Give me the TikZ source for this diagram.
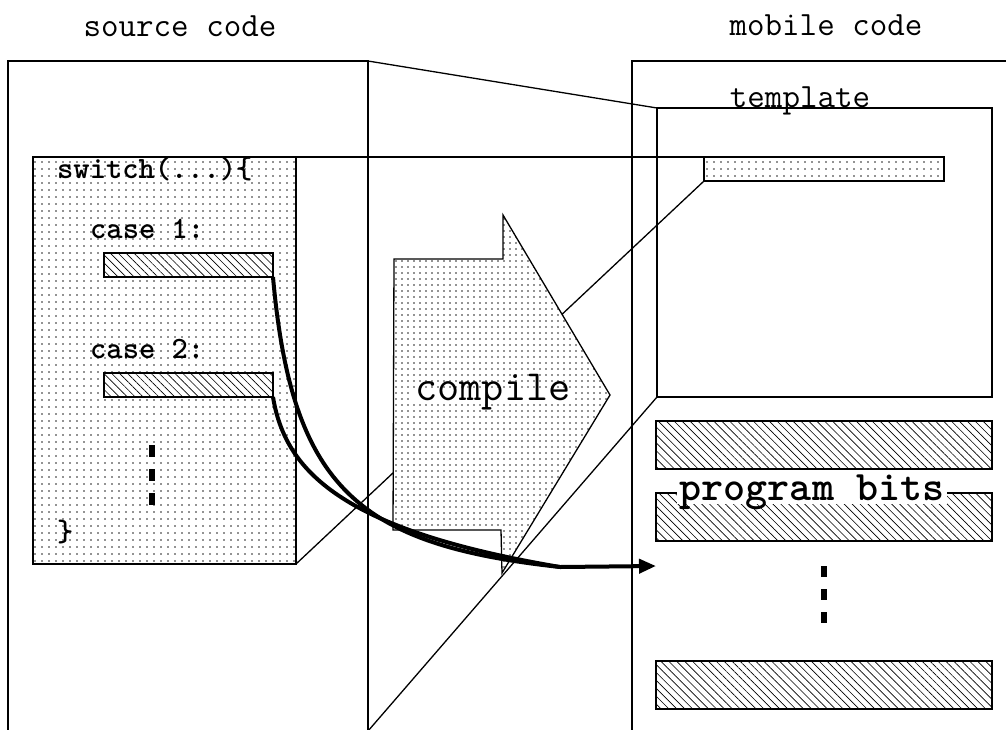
\documentclass[tikz,border=0pt]{standalone}
\usepackage{fontspec}
\usetikzlibrary{patterns.meta, arrows.meta}

\tikzset{
  frame/.style={line width=1.3pt},
  box/.style={draw, frame, inner sep=0pt, outer sep=0pt, anchor=north west},
  dotted area/.style={preaction={fill=white}, pattern={Dots[distance=7pt, radius=0.95pt]}, pattern color=black!85},
  dense dots/.style={preaction={fill=white}, pattern={Dots[distance=6pt, radius=0.9pt]}, pattern color=black!85},
  hatched/.style={preaction={fill=white}, pattern={Lines[angle=-45, distance=5.6pt, line width=0.65pt]}},
  caption/.style={font=\ttfamily\fontsize{34}{40}\selectfont, anchor=base, inner sep=0pt},
  code/.style={font=\ttfamily\bfseries\fontsize{31}{36}\selectfont, anchor=base west, inner sep=0pt},
  bigword/.style={fill=white, inner xsep=3pt, inner ysep=2pt, anchor=base,
                  text height=0.72em, text depth=0.24em},
  wire/.style={line width=4pt},
  ellipsis/.style={line width=6.5pt, dash pattern=on 12pt off 12pt},
}

\begin{document}
\begin{tikzpicture}[x=1pt, y=-1pt]
\useasboundingbox (0,0) rectangle (1006,729);
\clip (0,0) rectangle (1006,729);

% headings
\node[caption] (srclabel) at (180,36) {source code};
\node[caption] (moblabel) at (826,35) {mobile code};

% source code frame (open at the bottom)
\coordinate (srcTR) at (368,61);
\coordinate (srcBR) at (368,731);
\draw[frame] (8,745) -- (8,61) -- (srcTR) -- (368,745);

% mobile code frame (open at the bottom and right)
\draw[frame] (632,745) -- (632,61) -- (1015,61);

% template
\node[box, minimum width=335pt, minimum height=289pt] (tmpl) at (657,108) {};
\node[caption] (tmpllabel) at (800,107) {template};
\node[box, dotted area, minimum width=240pt, minimum height=24pt] (slot) at (704,157) {};

% switch statement block
\node[box, dotted area, minimum width=263pt, minimum height=407pt] (switch) at (33,157) {};

% projection lines from source to template
\draw[frame] (srcTR) -- (tmpl.north west);
\draw[frame] (switch.north east) -- (slot.north west);
\draw[frame] (slot.south west) -- (switch.south east);
\draw[frame] (tmpl.south west) -- (srcBR);

% contents of the switch block
\node[code] (sw) at (57,178) {switch(...)\{};
\node[code] (c1) at (90,238) {case 1:};
\node[box, hatched, minimum width=169pt, minimum height=24pt] (bar1) at (104,253) {};
\node[code] (c2) at (90,358) {case 2:};
\node[box, hatched, minimum width=169pt, minimum height=24pt] (bar2) at (104,373) {};
\draw[ellipsis] (152,445) -- (152,506);
\node[code] (close) at (57,541) {\}};

% compile arrow
\draw[frame, dense dots] (394,259) -- (503,259) -- (503,215) -- (610,395)
  -- (502,573) -- (501,530) -- (393,530) -- cycle;
\node[bigword, font=\ttfamily\fontsize{43}{50}\selectfont] (compile) at (493,400) {compile};

% program bits
\node[box, hatched, minimum width=336pt, minimum height=48pt] (bitA) at (656,421) {};
\node[box, hatched, minimum width=336pt, minimum height=48pt] (bitB) at (656,493) {};
\node[box, hatched, minimum width=336pt, minimum height=48pt] (bitC) at (656,661) {};
\draw[ellipsis, dash pattern=on 11pt off 12pt] (824,566) -- (824,626);
\node[bigword, font=\ttfamily\bfseries\fontsize{42}{48}\selectfont] (bitslabel) at (812,500) {program bits};

% compiled cases flow into the program bits
\coordinate (merge) at (560,567);
\coordinate (bitsin) at (656,566);
\draw[wire] (bar1.south east) .. controls (292,490) and (360,545) .. (merge);
\draw[wire] (bar2.south east) .. controls (285,470) and (340,530) .. (merge);
\draw[wire, -{Triangle[length=17pt, width=14pt]}] (merge) -- (bitsin);
\end{tikzpicture}
\end{document}
